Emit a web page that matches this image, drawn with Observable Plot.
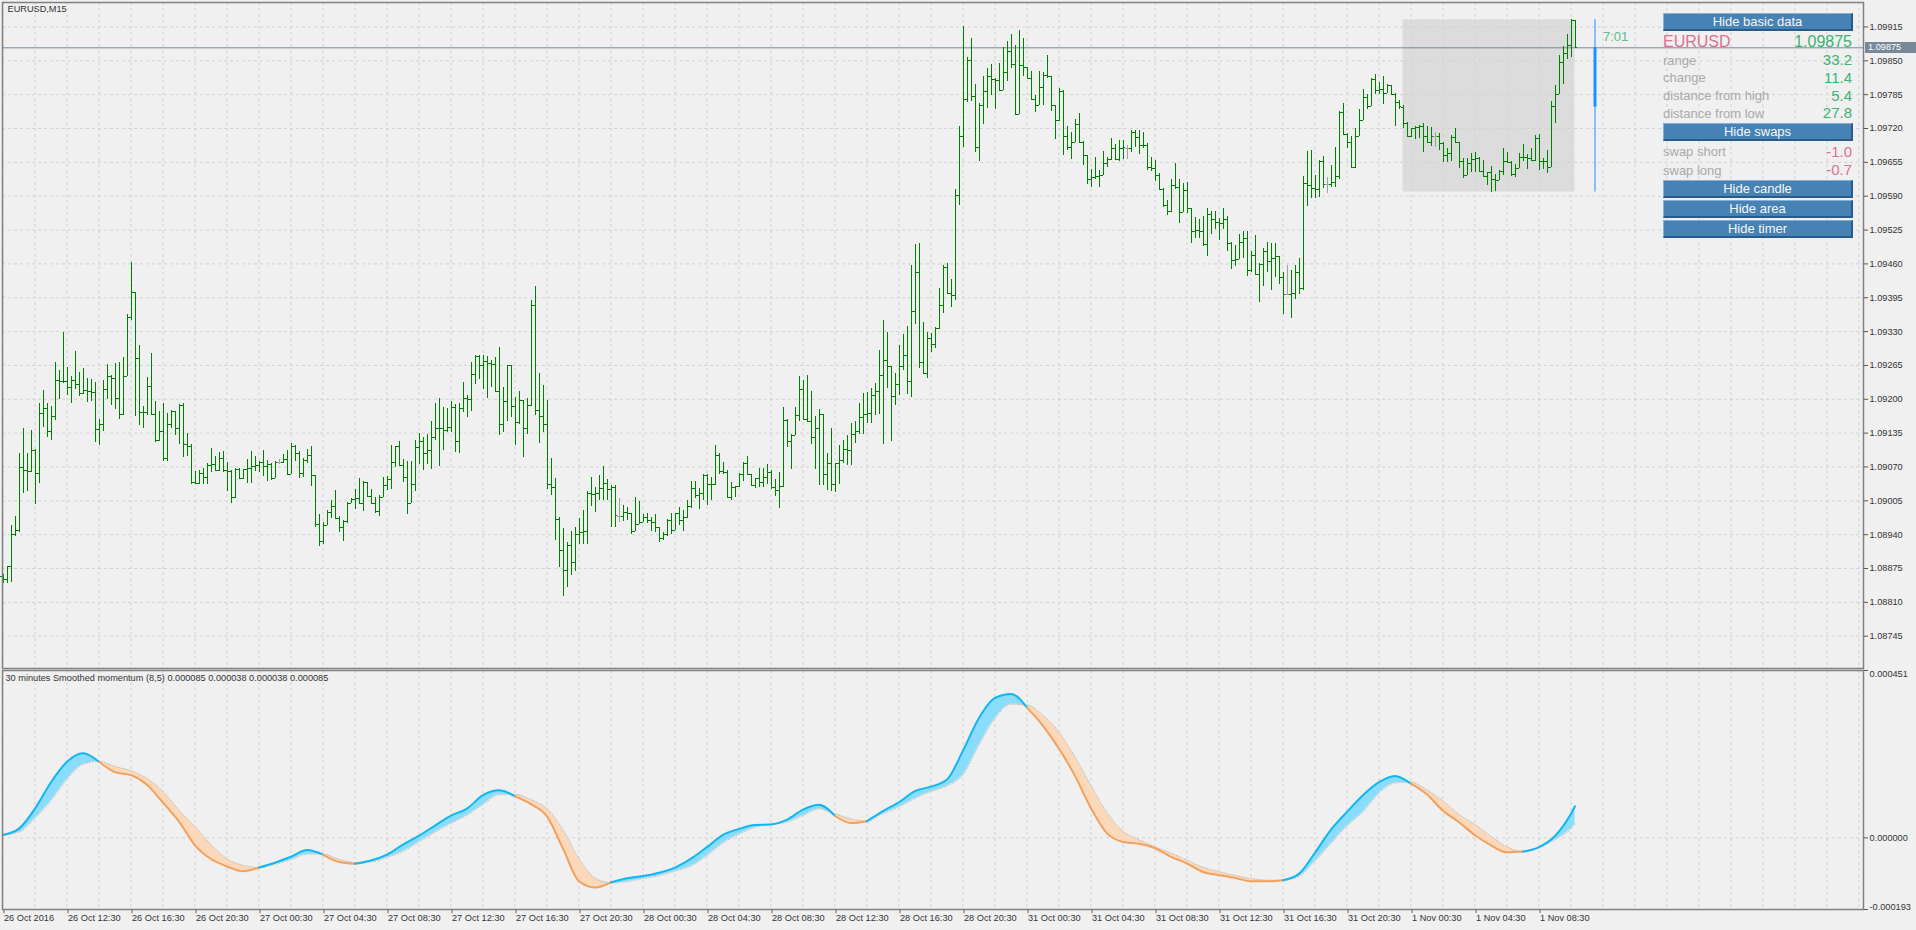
<!DOCTYPE html>
<html><head><meta charset="utf-8">
<script src="https://cdn.jsdelivr.net/npm/d3@7"></script>
<script src="https://cdn.jsdelivr.net/npm/@observablehq/plot@0.6"></script>
<style>
html,body{margin:0;padding:0;background:#F0F0F0;}
#root{position:relative;width:1916px;height:930px;overflow:hidden;background:#F0F0F0;font-family:"Liberation Sans",Arial,sans-serif;}
#root svg{position:absolute;left:0;}
.btn{position:absolute;box-sizing:border-box;background:#4682B4;color:#F6F6F6;text-align:center;font-size:13px;border-style:solid;border-width:1px 2px 2px 1px;border-color:#86B0D8 #2A5A88 #2A5A88 #86B0D8;}
.lbl{position:absolute;white-space:nowrap;}
</style></head><body><div id="root"></div>
<script>
// ---- price bars (EURUSD M15), prices in 1e-5 units ----
const highs = [
108863,108878,108957,108975,109095,109144,109096,109141,109104,109191,
109216,109192,109186,109271,109256,109329,109261,109243,109292,109252,
109260,109239,109238,109233,109161,109237,109267,109246,109269,109271,
109280,109363,109463,109406,109304,109186,109241,109287,109195,109177,
109191,109173,109179,109177,109190,109192,109135,109113,109061,109064,
109067,109077,109105,109090,109097,109099,109078,109063,109067,109067,
109066,109085,109100,109090,109081,109101,109082,109077,109081,109085,
109094,109101,109115,109112,109099,109087,109104,109110,109054,108978,
108963,108986,109005,109024,108975,108967,109002,109010,109026,109048,
109042,109041,109026,109011,109015,109050,109051,109111,109110,109119,
109085,109081,109080,109120,109135,109127,109133,109157,109192,109201,
109184,109182,109195,109190,109192,109233,109208,109270,109285,109284,
109284,109283,109275,109281,109300,109222,109265,109265,109204,109215,
109197,109201,109390,109417,109250,109226,109197,109086,109048,108973,
108952,108925,108946,108953,108971,108987,109022,109050,109031,109053,
109070,109045,109034,109035,109009,108996,108992,108980,109011,109003,
108979,108980,108973,108978,108954,108944,108969,108980,108980,108992,
108986,109006,109042,109043,109029,109055,109055,109049,109111,109096,
109078,109064,109040,109033,109057,109079,109090,109055,109047,109067,
109068,109074,109064,109045,109059,109185,109162,109133,109184,109243,
109237,109245,109215,109167,109180,109111,109095,109143,109077,109111,
109121,109130,109154,109157,109191,109211,109213,109220,109231,109294,
109351,109329,109263,109250,109303,109324,109340,109457,109498,109500,
109348,109329,109327,109338,109412,109457,109460,109430,109603,109724,
109916,109857,109892,109805,109768,109820,109835,109843,109817,109844,
109876,109887,109900,109880,109908,109892,109838,109830,109783,109830,
109827,109860,109819,109765,109797,109793,109724,109712,109737,109748,
109696,109669,109642,109665,109639,109676,109664,109700,109689,109697,
109697,109687,109716,109716,109716,109712,109692,109665,109659,109634,
109604,109582,109623,109653,109622,109614,109616,109566,109550,109545,
109551,109567,109560,109561,109548,109567,109551,109501,109495,109516,
109522,109522,109484,109515,109460,109490,109502,109499,109499,109444,
109444,109457,109447,109457,109470,109627,109676,109678,109630,109659,
109666,109625,109649,109684,109752,109768,109710,109705,109720,109756,
109795,109785,109816,109823,109809,109819,109805,109803,109787,109774,
109764,109732,109720,109723,109726,109729,109723,109721,109713,109710,
109693,109682,109706,109720,109694,109663,109662,109672,109674,109665,
109659,109636,109648,109631,109640,109681,109674,109657,109650,109672,
109689,109670,109681,109706,109709,109663,109678,109772,109802,109861,
109877,109901,109929,109927];
const lows = [
108847,108847,108848,108936,108944,109020,109023,109059,108997,109039,
109145,109127,109120,109159,109200,109230,109207,109192,109218,109206,
109210,109193,109195,109117,109111,109138,109200,109189,109181,109161,
109169,109243,109352,109167,109150,109144,109168,109170,109117,109118,
109080,109080,109144,109131,109113,109089,109091,109036,109036,109037,
109037,109037,109060,109064,109061,109059,109023,109000,109010,109045,
109045,109039,109039,109061,109059,109051,109042,109044,109048,109074,
109077,109055,109055,109080,109048,109050,109077,109032,108954,108917,
108922,108958,108972,108970,108944,108927,108962,108999,108988,108997,
108984,109012,108997,108981,108974,109013,109025,109026,109069,109071,
109040,108978,108999,109022,109074,109063,109075,109065,109120,109070,
109101,109136,109137,109097,109095,109174,109165,109176,109229,109238,
109218,109202,109222,109213,109130,109136,109158,109165,109112,109152,
109089,109132,109187,109168,109116,109137,109027,109015,108928,108877,
108821,108838,108862,108869,108921,108921,108921,108994,108982,109005,
109005,109006,108954,108954,108964,108965,108967,108941,108951,108962,
108965,108962,108946,108944,108925,108928,108937,108941,108948,108957,
108946,108972,108991,109010,108988,109006,108996,109005,109034,109056,
109056,109011,109006,109011,109031,109043,109053,109034,109029,109031,
109031,109037,109027,109013,108990,109031,109107,109066,109132,109158,
109160,109157,109114,109066,109035,109035,109024,109022,109021,109037,
109077,109072,109072,109115,109133,109133,109153,109154,109169,109170,
109114,109220,109119,109189,109207,109255,109210,109204,109343,109260,
109248,109239,109290,109297,109334,109364,109402,109377,109389,109573,
109684,109769,109771,109673,109657,109727,109758,109783,109756,109791,
109827,109811,109835,109746,109833,109819,109815,109774,109751,109765,
109765,109817,109753,109699,109733,109669,109678,109660,109694,109692,
109649,109612,109607,109623,109607,109630,109646,109658,109658,109657,
109660,109660,109674,109684,109671,109681,109639,109637,109619,109601,
109569,109552,109559,109603,109538,109559,109556,109500,109508,109509,
109493,109475,109517,109527,109505,109527,109484,109450,109455,109473,
109471,109435,109443,109439,109385,109417,109443,109409,109433,109420,
109362,109399,109356,109391,109401,109408,109571,109586,109586,109588,
109604,109596,109607,109607,109623,109708,109682,109643,109644,109704,
109735,109756,109763,109785,109785,109766,109787,109784,109723,109757,
109720,109703,109702,109699,109700,109674,109691,109686,109684,109677,
109654,109654,109657,109693,109643,109624,109631,109636,109636,109636,
109627,109611,109598,109599,109628,109629,109652,109627,109625,109643,
109656,109641,109656,109656,109640,109641,109633,109661,109729,109785,
109805,109852,109857,109873];
const opens = [
108860,108853,108878,108940,108948,109069,109064,109062,109102,109058,
109173,109182,109139,109167,109236,109235,109234,109222,109236,109228,
109211,109216,109214,109213,109142,109152,109219,109243,109240,109202,
109170,109244,109358,109406,109278,109175,109174,109225,109171,109120,
109139,109087,109152,109177,109144,109189,109114,109109,109041,109039,
109057,109050,109072,109075,109064,109087,109064,109061,109012,109066,
109048,109066,109067,109071,109073,109078,109071,109075,109048,109079,
109079,109085,109056,109110,109095,109057,109083,109093,109054,108959,
108926,108958,108982,108994,108972,108954,108966,109000,109008,109010,
108999,109041,109013,108999,108984,109012,109035,109046,109079,109109,
109072,109049,108999,109037,109107,109119,109095,109101,109127,109144,
109143,109141,109146,109184,109118,109183,109202,109200,109248,109283,
109265,109273,109268,109266,109215,109152,109196,109264,109186,109155,
109197,109144,109189,109380,109179,109167,109152,109037,109031,108970,
108909,108871,108919,108886,108940,108944,108946,109019,109018,109020,
109029,109039,109026,109031,108975,108975,108983,108980,108946,108960,
108963,108973,108968,108963,108954,108933,108941,108968,108948,108980,
108967,108973,108994,109029,109015,109019,109053,109036,109037,109093,
109061,109059,109012,109031,109033,109055,109077,109055,109035,109047,
109040,109050,109059,109031,109024,109032,109160,109118,109130,109168,
109219,109162,109158,109127,109143,109171,109055,109076,109037,109076,
109082,109103,109101,109133,109138,109165,109171,109173,109208,109215,
109245,109274,109263,109206,109229,109263,109284,109234,109368,109444,
109271,109249,109316,109305,109335,109380,109454,109404,109399,109592,
109705,109775,109851,109782,109683,109764,109791,109819,109815,109812,
109793,109828,109868,109842,109746,109841,109837,109817,109776,109765,
109799,109822,109819,109764,109735,109791,109705,109684,109694,109727,
109693,109669,109622,109626,109628,109630,109653,109660,109682,109660,
109682,109682,109682,109713,109702,109687,109688,109646,109644,109630,
109602,109572,109561,109610,109607,109559,109601,109566,109522,109524,
109523,109497,109554,109545,109540,109537,109545,109499,109467,109468,
109502,109508,109447,109476,109440,109458,109484,109465,109470,109475,
109433,109402,109402,109404,109443,109412,109614,109611,109604,109603,
109657,109613,109613,109616,109627,109750,109709,109694,109646,109705,
109735,109780,109763,109814,109793,109794,109787,109802,109786,109769,
109761,109729,109704,109720,109721,109724,109704,109693,109704,109704,
109692,109668,109672,109702,109694,109656,109630,109652,109661,109662,
109638,109628,109636,109622,109620,109638,109656,109654,109631,109644,
109664,109665,109663,109658,109700,109656,109657,109646,109763,109785,
109846,109865,109880,109928];
const closes = [
108853,108878,108940,108948,109069,109064,109062,109102,109058,109173,
109182,109139,109167,109236,109235,109234,109222,109236,109228,109211,
109216,109214,109213,109142,109152,109219,109243,109240,109202,109170,
109244,109358,109406,109278,109175,109174,109225,109171,109120,109139,
109087,109152,109177,109144,109189,109114,109109,109041,109039,109057,
109050,109072,109075,109064,109087,109064,109061,109012,109066,109048,
109066,109067,109071,109073,109078,109071,109075,109048,109079,109079,
109085,109056,109110,109095,109057,109083,109093,109054,108959,108926,
108958,108982,108994,108972,108954,108966,109000,109008,109010,108999,
109041,109013,108999,108984,109012,109035,109046,109079,109109,109072,
109049,108999,109037,109107,109119,109095,109101,109127,109144,109143,
109141,109146,109184,109118,109183,109202,109200,109248,109283,109265,
109273,109268,109266,109215,109152,109196,109264,109186,109155,109197,
109144,109189,109380,109179,109167,109152,109037,109031,108970,108909,
108871,108919,108886,108940,108944,108946,109019,109018,109020,109029,
109039,109026,109031,108976,108975,108983,108980,108946,108960,108963,
108973,108968,108963,108954,108933,108941,108968,108948,108980,108967,
108973,108994,109029,109015,109019,109053,109036,109037,109093,109061,
109059,109012,109031,109033,109055,109077,109055,109035,109047,109040,
109050,109059,109031,109024,109032,109160,109118,109130,109168,109219,
109162,109158,109127,109143,109171,109055,109076,109037,109076,109082,
109103,109101,109133,109138,109165,109171,109173,109208,109215,109245,
109274,109263,109206,109229,109263,109284,109234,109368,109444,109271,
109249,109316,109305,109335,109380,109454,109404,109399,109592,109705,
109775,109851,109782,109683,109764,109791,109819,109815,109812,109793,
109828,109868,109842,109746,109841,109837,109817,109776,109765,109799,
109822,109819,109764,109735,109791,109705,109684,109694,109727,109693,
109669,109622,109626,109628,109630,109653,109660,109682,109660,109682,
109683,109682,109713,109702,109687,109688,109646,109644,109630,109602,
109572,109561,109610,109607,109559,109601,109566,109522,109524,109523,
109497,109554,109545,109540,109537,109545,109499,109467,109468,109502,
109508,109447,109476,109440,109458,109484,109465,109470,109475,109433,
109401,109402,109404,109443,109412,109614,109611,109604,109603,109657,
109613,109613,109616,109627,109750,109709,109694,109646,109705,109735,
109780,109763,109814,109793,109794,109787,109802,109786,109769,109763,
109729,109704,109720,109721,109724,109704,109693,109704,109704,109692,
109668,109672,109702,109694,109656,109630,109652,109661,109662,109638,
109628,109636,109622,109620,109638,109656,109654,109631,109644,109664,
109665,109663,109658,109700,109656,109657,109646,109763,109785,109846,
109865,109880,109928,109875];

// ---- time axis ----
const labelIdx = [0,16,32,48,64,80,96,112,128,144,160,176,192,208,224,240,256,272,288,304,320,336,352,368,384];
const timeLabels = ["26 Oct 2016","26 Oct 12:30","26 Oct 16:30","26 Oct 20:30","27 Oct 00:30","27 Oct 04:30","27 Oct 08:30","27 Oct 12:30","27 Oct 16:30","27 Oct 20:30","28 Oct 00:30","28 Oct 04:30","28 Oct 08:30","28 Oct 12:30","28 Oct 16:30","28 Oct 20:30","31 Oct 00:30","31 Oct 04:30","31 Oct 08:30","31 Oct 12:30","31 Oct 16:30","31 Oct 20:30","1 Nov 00:30","1 Nov 04:30","1 Nov 08:30"];
const priceTicks = [1.08745,1.08810,1.08875,1.08940,1.09005,1.09070,1.09135,1.09200,1.09265,1.09330,1.09395,1.09460,1.09525,1.09590,1.09655,1.09720,1.09785,1.09850,1.09915];

// ---- smoothed momentum (values x 1e-6) sampled at bar indices ----
const momIdx = [0,4,8,12,16,20,24,28,32,36,40,44,48,52,56,60,64,68,72,76,80,84,88,92,96,100,104,108,112,116,120,124,128,132,136,140,144,148,152,156,160,164,168,172,176,180,184,188,192,196,200,204,208,212,216,220,224,228,232,236,240,244,248,252,256,260,264,268,272,276,280,284,288,292,296,300,304,308,312,316,320,324,328,332,336,340,344,348,352,356,360,364,368,372,376,380,384,388,392,393];
const momMain = [8,25,79,150,205,228,205,177,169,143,95,44,-20,-57,-77,-90,-80,-67,-51,-33,-45,-65,-70,-61,-45,-18,6,33,60,79,115,128,112,91,58,-29,-117,-134,-120,-109,-103,-94,-80,-56,-25,8,24,35,36,49,76,89,59,40,45,72,96,126,138,157,235,323,377,388,351,302,240,167,80,12,-11,-16,-28,-51,-69,-92,-100,-108,-117,-117,-114,-97,-40,22,70,115,150,167,146,117,73,42,7,-20,-39,-37,-25,5,65,85];
const momSignal = [8,15,53,100,158,198,206,192,181,160,125,75,30,-18,-57,-74,-80,-71,-59,-44,-44,-58,-66,-65,-53,-37,-11,15,39,61,90,116,117,103,79,22,-56,-108,-122,-118,-110,-102,-90,-76,-48,-14,10,28,37,42,60,78,65,51,45,65,83,106,125,140,170,250,322,360,358,330,285,218,141,68,18,-5,-24,-41,-60,-79,-91,-101,-110,-114,-115,-104,-63,-15,32,70,120,148,150,129,100,63,36,4,-24,-39,-27,-5,25,38];
const momTicks = [0.000451, 0, -0.000193];
const momTitle = "30 minutes Smoothed momentum (8,5) 0.000085 0.000038 0.000038 0.000085";

// ---- info panel ----
const symbol = "EURUSD", chartTitle = "EURUSD,M15";
const infoLabels = ["range","change","distance from high","distance from low"];
const infoValues = ["33.2","11.4","5.4","27.8"];
const swapLabels = ["swap short","swap long"];
const swapValues = ["-1.0","-0.7"];
const buttonLabels = ["Hide basic data","Hide swaps","Hide candle","Hide area","Hide timer"];
const timerText = "7:01";
const dayStart = 350;

const FONT = '"Liberation Sans", Arial, sans-serif';
const GREEN = "#3CB371", PINK = "#DB7093", GREY = "#A9A9A9";
const bars = highs.map((h, i) => ({i, high: h/1e5, low: lows[i]/1e5, open: opens[i]/1e5, close: closes[i]/1e5,
  col: opens[i] === closes[i] ? "#A0A0A0" : "#008000"}));
const last = bars.length - 1;
const day = {x1: dayStart, x2: last, cx: last + 5,
  hi: d3.max(highs.slice(dayStart))/1e5, lo: d3.min(lows.slice(dayStart))/1e5,
  open: opens[dayStart]/1e5, close: closes[last]/1e5};
const xDomain = [-0.125, 465.125];
const gridIdx = d3.range(0, 465, 8);
const dash = {stroke: "#D2D2D2", strokeDasharray: "3,3"};

const topPlot = Plot.plot({
  width: 1916, height: 670, marginLeft: 2, marginRight: 53, marginTop: 2, marginBottom: 2,
  x: {domain: xDomain, axis: null, label: null},
  y: {domain: [1.08683, 1.09962], axis: null, label: null},
  color: {type: "identity"},
  style: {background: "transparent", fontFamily: FONT, fontSize: "9.2px", color: "#333", overflow: "visible"},
  marks: [
    Plot.rect([day], {x1: "x1", x2: "x2", y1: "lo", y2: "hi", fill: "#DCDCDC"}),
    Plot.ruleY(priceTicks, dash),
    Plot.ruleX(gridIdx, dash),
    Plot.ruleY([day.close], {stroke: "#778899"}),
    Plot.ruleX(bars, {x: "i", y1: d => Math.min(d.low, d.open, d.close), y2: d => Math.max(d.high, d.open, d.close), stroke: "col", strokeWidth: 1, shapeRendering: "crispEdges"}),
    Plot.ruleY(bars, {y: "open", x1: d => d.i - 0.5, x2: "i", stroke: "col", strokeWidth: 1, shapeRendering: "crispEdges"}),
    Plot.ruleY(bars, {y: "close", x1: "i", x2: d => d.i + 0.5, stroke: "col", strokeWidth: 1, shapeRendering: "crispEdges"}),
    Plot.ruleX([day], {x: "cx", y1: "lo", y2: "hi", stroke: "#1E90FF", strokeWidth: 1}),
    Plot.ruleX([day], {x: "cx", y1: "open", y2: "close", stroke: "#1E90FF", strokeWidth: 3}),
    Plot.text([day], {x: "cx", y: "hi", text: () => timerText, dx: 8, dy: 17, textAnchor: "start", fill: "#5DBE8E", fontSize: 13}),
    Plot.axisY({anchor: "right", ticks: priceTicks, tickFormat: d3.format(".5f"), tickSize: 4, tickPadding: 2, stroke: "#555", label: null}),
    Plot.frame({stroke: "#808080", strokeWidth: 1.5}),
    Plot.text([chartTitle], {frameAnchor: "top-left", dx: 5, dy: 3, lineAnchor: "top", textAnchor: "start", fill: "#333"})
  ]
});
topPlot.style.top = "0px";

const mom = momIdx.map((i, k) => ({i, main: momMain[k]*1e-6, sig: momSignal[k]*1e-6}));
// split the main line into runs of one colour (blue when above its signal, orange when below)
const BLUE = "#12B6F3", ORANGE = "#F3A05C";
const runPts = [];
let run = -1, prevCol = null;
mom.slice(1).forEach((b, k) => {
  const a = mom[k];
  const col = (a.main + b.main) >= (a.sig + b.sig) ? BLUE : ORANGE;
  if (col !== prevCol) { run++; prevCol = col; runPts.push({i: a.i, v: a.main, run, col}); }
  runPts.push({i: b.i, v: b.main, run, col});
});
const momLabels = [{v: momTicks[0], t: "0.000451", a: "top"}, {v: momTicks[1], t: "0.000000", a: "middle"}, {v: momTicks[2], t: "-0.000193", a: "bottom"}];

const botPlot = Plot.plot({
  width: 1916, height: 262, marginLeft: 2, marginRight: 53, marginTop: 2, marginBottom: 21,
  x: {domain: xDomain, axis: null, label: null},
  y: {domain: [-0.000193, 0.000451], axis: null, label: null},
  color: {type: "identity"},
  style: {background: "transparent", fontFamily: FONT, fontSize: "9.2px", color: "#333", overflow: "visible"},
  marks: [
    Plot.ruleX(gridIdx, dash),
    Plot.ruleY([0], dash),
    Plot.areaY(mom, {x: "i", y1: "sig", y2: d => Math.max(d.main, d.sig), fill: "#8ADDFA", curve: "monotone-x"}),
    Plot.areaY(mom, {x: "i", y1: "sig", y2: d => Math.min(d.main, d.sig), fill: "#FCD8BB", curve: "monotone-x"}),
    Plot.line(mom, {x: "i", y: "sig", stroke: "#BDBDBD", strokeWidth: 1, strokeDasharray: "1,2", curve: "monotone-x"}),
    Plot.line(runPts, {x: "i", y: "v", z: "run", stroke: "col", strokeWidth: 2, curve: "monotone-x", strokeLinecap: "round"}),
    Plot.axisY({anchor: "right", ticks: momTicks, tickFormat: () => "", tickSize: 4, stroke: "#555", label: null}),
    Plot.text(momLabels.filter(d => d.a === "top"), {y: "v", text: "t", frameAnchor: "right", dx: 6, textAnchor: "start", lineAnchor: "top", fill: "#333"}),
    Plot.text(momLabels.filter(d => d.a === "middle"), {y: "v", text: "t", frameAnchor: "right", dx: 6, textAnchor: "start", lineAnchor: "middle", fill: "#333"}),
    Plot.text(momLabels.filter(d => d.a === "bottom"), {y: "v", text: "t", frameAnchor: "right", dx: 6, textAnchor: "start", lineAnchor: "bottom", fill: "#333"}),
    Plot.axisX({anchor: "bottom", ticks: labelIdx, tickFormat: d => timeLabels[labelIdx.indexOf(d)], tickSize: 4, tickPadding: 1, textAnchor: "start", dx: 1, stroke: "#555", label: null}),
    Plot.frame({stroke: "#808080", strokeWidth: 1.5}),
    Plot.text([momTitle], {frameAnchor: "top-left", dx: 3, dy: 4, lineAnchor: "top", textAnchor: "start", fill: "#333"})
  ]
});
botPlot.style.top = "668px";

const root = document.getElementById("root");
root.appendChild(topPlot);
root.appendChild(botPlot);

// current price label box on the price axis
const yC = topPlot.scale("y").apply(day.close);
const pl = document.createElement("div");
pl.className = "lbl";
Object.assign(pl.style, {left: "1865px", top: (yC - 5.5) + "px", width: "51px", height: "11px", background: "#778899", color: "#fff", fontSize: "9.2px", lineHeight: "11px", paddingLeft: "3px", boxSizing: "border-box"});
pl.textContent = d3.format(".5f")(day.close);
root.appendChild(pl);

// info panel
function addText(txt, x, cy, size, color, align) {
  const d = document.createElement("div");
  d.className = "lbl";
  const h = Math.round(size * 1.3);
  Object.assign(d.style, {top: (cy - h/2) + "px", height: h + "px", lineHeight: h + "px", fontSize: size + "px", color: color});
  if (align === "right") d.style.right = (1916 - x) + "px"; else d.style.left = x + "px";
  d.textContent = txt;
  root.appendChild(d);
}
const btnTops = [13, 123, 180, 200, 220];
buttonLabels.forEach((t, k) => {
  const b = document.createElement("div");
  b.className = "btn";
  Object.assign(b.style, {left: "1663px", top: btnTops[k] + "px", width: "190px", height: "18px", lineHeight: "15px"});
  b.textContent = t;
  root.appendChild(b);
});
addText(symbol, 1663, 41.5, 16, PINK, "left");
addText(d3.format(".5f")(day.close), 1852, 41.5, 16, GREEN, "right");
const rowY = [60, 77.7, 95.7, 113.3];
infoLabels.forEach((t, k) => { addText(t, 1663, rowY[k], 13, GREY, "left"); addText(infoValues[k], 1852, rowY[k], 15, GREEN, "right"); });
const swapY = [151.7, 170];
swapLabels.forEach((t, k) => { addText(t, 1663, swapY[k], 13, GREY, "left"); addText(swapValues[k], 1852, swapY[k], 15, PINK, "right"); });
</script></body></html>
